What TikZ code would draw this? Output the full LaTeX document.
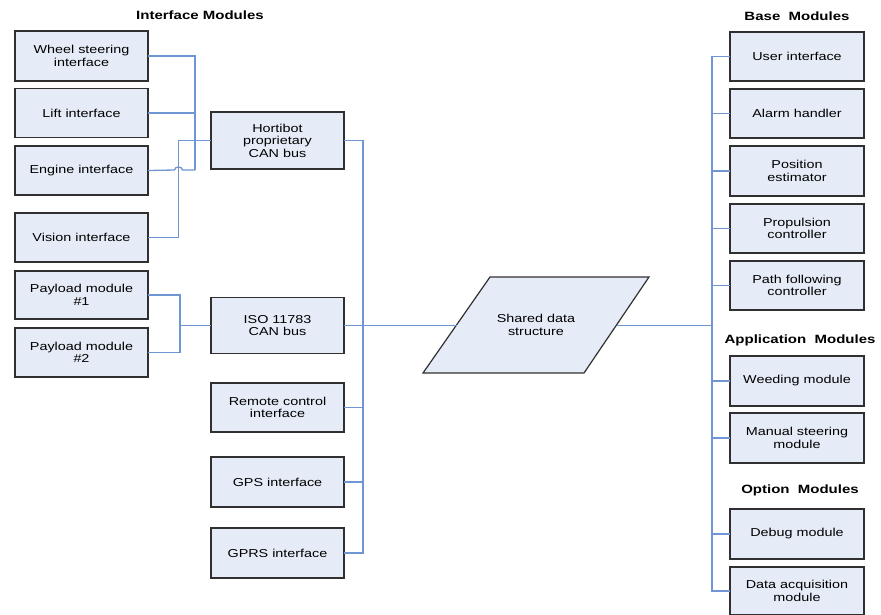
\documentclass[tikz,border=0pt]{standalone}
\usepackage{fontspec}
\setmainfont[FakeStretch=1.25]{Liberation Sans}
\definecolor{boxfill}{HTML}{E6ECF7}
\definecolor{boxline}{HTML}{303030}
\definecolor{wire}{HTML}{6F95D2}
\begin{document}
\begin{tikzpicture}[x=1pt,y=-1pt,
  modbox/.style={draw=boxline,fill=boxfill,line width=1.4pt,inner sep=1pt,outer sep=0pt,
    align=center,font=\fontsize{11.5}{12.5}\selectfont,minimum width=#1},
  modbox/.default=133pt,
  heading/.style={font=\fontsize{12}{13}\selectfont\bfseries,inner sep=0pt},
  wireline/.style={draw=wire,line width=1.3pt}]
\useasboundingbox (0,0) rectangle (881,614);

% headings
\node[heading] (hIF) at (200,15) {Interface Modules};
\node[heading] (hBase) at (797,16) {Base\ \ Modules};
\node[heading] (hApp) at (800,340) {Application\ \ Modules};
\node[heading] (hOpt) at (800,490) {Option\ \ Modules};

% left column
\node[modbox,minimum height=50pt] (ws) at (81.5,56) {Wheel steering\\interface};
\node[modbox,minimum height=49pt] (lift) at (81.5,113) {Lift interface};
\node[modbox,minimum height=49pt] (eng) at (81.5,170.5) {Engine interface};
\node[modbox,minimum height=49pt] (vis) at (81.5,237.5) {Vision interface};
\node[modbox,minimum height=48pt] (pl1) at (81.5,295) {Payload module\\\#1};
\node[modbox,minimum height=49pt] (pl2) at (81.5,352.5) {Payload module\\\#2};

% middle column
\node[modbox,minimum height=57pt] (hort) at (277.5,140.5) {Hortibot\\proprietary\\CAN bus};
\node[modbox,minimum height=56pt] (iso) at (277.5,325.5) {ISO 11783\\CAN bus};
\node[modbox,minimum height=49pt] (rem) at (277.5,407.5) {Remote control\\interface};
\node[modbox,minimum height=50pt] (gps) at (277.5,482) {GPS interface};
\node[modbox,minimum height=50pt] (gprs) at (277.5,553) {GPRS interface};

% shared data structure (parallelogram)
\coordinate (sbl) at (423,373);
\coordinate (stl) at (490,277);
\coordinate (str) at (649,277);
\coordinate (sbr) at (584,373);
\coordinate (sdsw) at (456.5,325.5);
\coordinate (sdse) at (616.5,325.5);
\draw[draw=boxline,fill=boxfill,line width=1.2pt,line join=miter] (sbl) -- (stl) -- (str) -- (sbr) -- cycle;
\node[align=center,font=\fontsize{11.5}{12.5}\selectfont,inner sep=0pt] (sds) at (536,325) {Shared data\\structure};

% right column
\node[modbox=134pt,minimum height=49pt] (ui) at (797,56.5) {User interface};
\node[modbox=134pt,minimum height=49pt] (alarm) at (797,113.5) {Alarm handler};
\node[modbox=134pt,minimum height=50pt] (pos) at (797,171) {Position\\estimator};
\node[modbox=134pt,minimum height=49pt] (prop) at (797,228.5) {Propulsion\\controller};
\node[modbox=134pt,minimum height=49pt] (path) at (797,285.5) {Path following\\controller};
\node[modbox=134pt,minimum height=50pt] (weed) at (797,381) {Weeding module};
\node[modbox=134pt,minimum height=50pt] (man) at (797,438) {Manual steering\\module};
\node[modbox=134pt,minimum height=50pt] (debug) at (797,534) {Debug module};
\node[modbox=134pt,minimum height=48pt] (daq) at (797,591) {Data acquisition\\module};

% connectors: proprietary bus
\coordinate (j1) at (195,170);
\coordinate (hop) at (178.5,170);
\coordinate (vx) at (178.5,140.5);
\draw[wireline] (ws.east) -| (j1);
\draw[wireline] (lift.east) -- (lift.east -| j1);
\draw[wireline] (eng.east) -- ([xshift=-4pt]hop)
  .. controls ([xshift=-4pt,yshift=4pt]hop) and ([xshift=4pt,yshift=4pt]hop) .. ([xshift=4pt]hop) -- (j1);
\draw[wireline] (vis.east) -| (vx) -- (hort.west);

% payload to ISO
\coordinate (px) at (180,325.5);
\draw[wireline] (pl1.east) -| (px);
\draw[wireline] (pl2.east) -| (px);
\draw[wireline] (px) -- (iso.west);

% middle bus
\coordinate (bx) at (363,140.5);
\draw[wireline] (hort.east) -- (bx) -- (bx |- gprs.east) -- (gprs.east);
\draw[wireline] (rem.east) -- (rem.east -| bx);
\draw[wireline] (gps.east) -- (gps.east -| bx);
\draw[wireline] (iso.east) -- (sdsw);

% right bus
\coordinate (rx) at (712,325.5);
\draw[wireline] (sdse) -- (rx);
\draw[wireline] (ui.west) -| (rx |- daq.west) -- (daq.west);
\foreach \n in {alarm,pos,prop,path,weed,man,debug}
  \draw[wireline] (\n.west) -- (\n.west -| rx);
\end{tikzpicture}
\end{document}
